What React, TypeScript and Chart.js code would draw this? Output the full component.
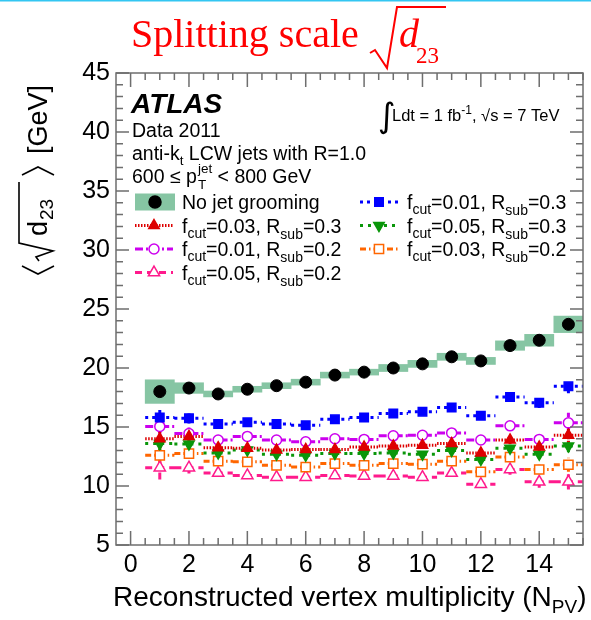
import React, { useEffect, useRef } from "react";
import { Chart, registerables } from "chart.js";
Chart.register(...registerables);

const SANS = '"Liberation Sans", Arial, sans-serif';
const SERIF = '"Liberation Serif", "Times New Roman", serif';

// ---- data ----
const npv = [1, 2, 3, 4, 5, 6, 7, 8, 9, 10, 11, 12, 13, 14, 15];
const xTickValues = [0, 2, 4, 6, 8, 10, 12, 14];
const yTickValues = [5, 10, 15, 20, 25, 30, 35, 40, 45];

const noGrooming = [18.0, 18.3, 17.8, 18.2, 18.5, 18.8, 19.4, 19.65, 20.0, 20.35, 20.95, 20.6, 21.9, 22.35, 23.7];
const noGroomingErr = [1.0, 0.45, 0.25, 0.25, 0.25, 0.25, 0.25, 0.25, 0.3, 0.3, 0.3, 0.3, 0.4, 0.5, 0.7];

const fcut001Rsub03 = [15.8, 15.75, 15.25, 15.4, 15.25, 15.15, 15.65, 15.8, 16.15, 16.3, 16.65, 15.95, 17.55, 17.05, 18.45];
const fcut001Rsub03Err = [0.8, 0.45, 0.2, 0.2, 0.2, 0.2, 0.2, 0.2, 0.2, 0.2, 0.25, 0.25, 0.35, 0.45, 0.6];

const fcut003Rsub03 = [14.0, 14.2, 13.25, 13.2, 13.05, 13.1, 13.1, 13.3, 13.4, 13.45, 13.6, 12.8, 13.9, 13.3, 14.3];
const fcut003Rsub03Err = [0.8, 0.45, 0.2, 0.2, 0.2, 0.2, 0.2, 0.2, 0.2, 0.2, 0.25, 0.25, 0.35, 0.4, 0.6];

const fcut005Rsub03 = [13.6, 13.55, 12.8, 13.05, 12.7, 12.6, 12.75, 12.75, 12.8, 12.7, 13.0, 12.25, 13.2, 12.7, 13.4];
const fcut005Rsub03Err = [0.7, 0.4, 0.2, 0.2, 0.2, 0.2, 0.2, 0.2, 0.2, 0.2, 0.25, 0.25, 0.35, 0.4, 0.55];

const fcut001Rsub02 = [15.05, 14.45, 13.9, 14.2, 13.9, 13.75, 14.0, 13.95, 14.25, 14.3, 14.5, 13.9, 15.1, 13.95, 15.35];
const fcut001Rsub02Err = [0.9, 0.5, 0.2, 0.2, 0.2, 0.2, 0.2, 0.2, 0.2, 0.2, 0.25, 0.25, 0.4, 0.45, 0.85];

const fcut003Rsub02 = [12.6, 12.75, 12.1, 12.05, 11.75, 11.6, 11.9, 11.75, 11.9, 11.85, 12.1, 11.2, 12.45, 11.4, 11.8];
const fcut003Rsub02Err = [0.8, 0.45, 0.2, 0.2, 0.2, 0.2, 0.2, 0.2, 0.2, 0.2, 0.25, 0.25, 0.4, 0.4, 0.6];

const fcut005Rsub02 = [11.55, 11.55, 11.1, 10.9, 10.75, 10.75, 10.9, 10.85, 10.85, 10.75, 11.1, 10.15, 11.4, 10.35, 10.35];
const fcut005Rsub02Err = [1.0, 0.5, 0.2, 0.2, 0.2, 0.2, 0.2, 0.2, 0.2, 0.2, 0.25, 0.25, 0.45, 0.5, 0.65];

type Series = {
  fcut: string;
  rsub: string;
  values: number[];
  errs: number[];
  color: string;
  shape: "circle" | "rect" | "triangle" | "triangleDown";
  filled: boolean;
  radius: number;
  dash: number[];
  col: number;
  row: number;
};

const seriesList: Series[] = [
  { fcut: "0.01", rsub: "0.3", values: fcut001Rsub03, errs: fcut001Rsub03Err, color: "#0000ff", shape: "rect", filled: true, radius: 6, dash: [3, 4], col: 1, row: 0 },
  { fcut: "0.03", rsub: "0.3", values: fcut003Rsub03, errs: fcut003Rsub03Err, color: "#dd0000", shape: "triangle", filled: true, radius: 6, dash: [1.5, 1.5], col: 0, row: 1 },
  { fcut: "0.05", rsub: "0.3", values: fcut005Rsub03, errs: fcut005Rsub03Err, color: "#0a960a", shape: "triangleDown", filled: true, radius: 6, dash: [3, 5, 3, 5], col: 1, row: 1 },
  { fcut: "0.01", rsub: "0.2", values: fcut001Rsub02, errs: fcut001Rsub02Err, color: "#cc00ee", shape: "circle", filled: false, radius: 5, dash: [8, 3, 2, 3], col: 0, row: 2 },
  { fcut: "0.03", rsub: "0.2", values: fcut003Rsub02, errs: fcut003Rsub02Err, color: "#ff6600", shape: "rect", filled: false, radius: 6.5, dash: [6, 3, 1.5, 3], col: 1, row: 2 },
  { fcut: "0.05", rsub: "0.2", values: fcut005Rsub02, errs: fcut005Rsub02Err, color: "#ff1a8c", shape: "triangle", filled: false, radius: 6.5, dash: [7, 5], col: 0, row: 3 },
];

const GROOM_BOX = "#86c5a3";

function drawMarker(ctx: CanvasRenderingContext2D, shape: string, x: number, y: number, r: number, color: string, filled: boolean) {
  ctx.save();
  ctx.setLineDash([]);
  ctx.beginPath();
  if (shape === "circle") {
    ctx.arc(x, y, r, 0, Math.PI * 2);
  } else if (shape === "rect") {
    const s = Math.SQRT1_2 * r;
    ctx.rect(x - s, y - s, 2 * s, 2 * s);
  } else {
    let rad = shape === "triangleDown" ? Math.PI : 0;
    ctx.moveTo(x + Math.sin(rad) * r, y - Math.cos(rad) * r);
    rad += (2 * Math.PI) / 3;
    ctx.lineTo(x + Math.sin(rad) * r, y - Math.cos(rad) * r);
    rad += (2 * Math.PI) / 3;
    ctx.lineTo(x + Math.sin(rad) * r, y - Math.cos(rad) * r);
    ctx.closePath();
  }
  ctx.fillStyle = filled ? color : "#ffffff";
  ctx.fill();
  ctx.lineWidth = 1.5;
  ctx.strokeStyle = color;
  ctx.stroke();
  ctx.restore();
}

type Run = { t: string; size: number; dy?: number; style?: string; family?: string };
function drawRuns(ctx: CanvasRenderingContext2D, x: number, y: number, runs: Run[]) {
  let cx = x;
  for (const r of runs) {
    ctx.font = `${r.style ?? ""} ${r.size}px ${r.family ?? SANS}`;
    ctx.fillText(r.t, cx, y + (r.dy ?? 0));
    cx += ctx.measureText(r.t).width;
  }
  return cx;
}

const decorPlugin = {
  id: "decor",
  afterDraw(chart: any) {
    const ctx: CanvasRenderingContext2D = chart.ctx;
    const { left, right, top, bottom } = chart.chartArea;
    const xs = chart.scales.x;
    const ys = chart.scales.y;
    ctx.save();
    ctx.textAlign = "left";
    ctx.textBaseline = "alphabetic";

    // top cyan line
    ctx.fillStyle = "#33c6f2";
    ctx.fillRect(0, 0, 591, 1.5);

    // frame + ticks
    ctx.strokeStyle = "#6e6e6e";
    ctx.lineWidth = 1.5;
    ctx.setLineDash([]);
    ctx.strokeRect(left, top, right - left, bottom - top);
    ctx.beginPath();
    for (let v = 5; v <= 45; v += 1) {
      const py = ys.getPixelForValue(v);
      const len = v % 5 === 0 ? 13 : 7;
      ctx.moveTo(left, py); ctx.lineTo(left + len, py);
      ctx.moveTo(right, py); ctx.lineTo(right - len, py);
    }
    for (let v = 0; v <= 15.5; v += 0.5) {
      const px = xs.getPixelForValue(v);
      const len = v % 2 === 0 ? 14 : 7;
      ctx.moveTo(px, bottom); ctx.lineTo(px, bottom - len);
      ctx.moveTo(px, top); ctx.lineTo(px, top + len);
    }
    ctx.stroke();

    // Title
    ctx.fillStyle = "#ff0000";
    ctx.strokeStyle = "#ff0000";
    ctx.font = `40px ${SERIF}`;
    ctx.fillText("Splitting scale", 131, 47);
    ctx.lineWidth = 2;
    ctx.beginPath();
    ctx.moveTo(370, 53); ctx.lineTo(375, 50); ctx.lineTo(387, 68); ctx.lineTo(397, 7); ctx.lineTo(446, 7);
    ctx.stroke();
    ctx.font = `italic 40px ${SERIF}`;
    ctx.fillText("d", 399, 47);
    ctx.font = `23px ${SERIF}`;
    ctx.fillText("23", 416, 63);

    // Texts in plot
    ctx.fillStyle = "#000";
    ctx.font = `italic bold 28px ${SANS}`;
    ctx.fillText("ATLAS", 131, 113);
    drawRuns(ctx, 132, 137, [{ t: "Data 2011", size: 19.5 }]);
    drawRuns(ctx, 132, 160, [{ t: "anti-k", size: 19.5 }, { t: "t", size: 13.5, dy: 5 }, { t: " LCW jets with R=1.0", size: 19.5 }]);
    {
      let cx = drawRuns(ctx, 132, 183, [{ t: "600 \u2264 p", size: 19.5 }]);
      ctx.font = `13.5px ${SANS}`;
      const w1 = ctx.measureText("jet").width;
      ctx.fillText("jet", cx + 1, 173);
      const w2 = ctx.measureText("T").width;
      ctx.fillText("T", cx + 1, 189);
      cx += Math.max(w1, w2) + 1;
      drawRuns(ctx, cx, 183, [{ t: " < 800 GeV", size: 19.5 }]);
    }
    // luminosity
    ctx.font = `34px "DejaVu Sans", sans-serif`;
    ctx.fillText("\u222B", 378, 127);
    drawRuns(ctx, 392, 121, [
      { t: "Ldt = 1 fb", size: 16.5 },
      { t: "-1", size: 12, dy: -7 },
      { t: ", \u221As = 7 TeV", size: 16.5 },
    ]);

    // Legend
    const rowsY = [202, 225.5, 249, 272.5];
    ctx.fillStyle = GROOM_BOX;
    ctx.fillRect(135, rowsY[0] - 8.5, 40, 17);
    drawMarker(ctx, "circle", 155, rowsY[0], 6, "#000", true);
    ctx.fillStyle = "#000";
    drawRuns(ctx, 182, rowsY[0] + 7, [{ t: "No jet grooming", size: 19.5 }]);
    for (const s of seriesList) {
      const x0 = s.col === 0 ? 135 : 360;
      const x1 = x0 + 38;
      const cy = rowsY[s.row];
      ctx.strokeStyle = s.color;
      ctx.lineWidth = 3;
      ctx.setLineDash(s.dash);
      ctx.beginPath();
      ctx.moveTo(x0, cy); ctx.lineTo(x1, cy);
      ctx.stroke();
      ctx.setLineDash([]);
      drawMarker(ctx, s.shape, (x0 + x1) / 2, cy, s.radius, s.color, s.filled);
      ctx.fillStyle = "#000";
      drawRuns(ctx, x1 + 9, cy + 7, [
        { t: "f", size: 19.5 },
        { t: "cut", size: 14, dy: 5 },
        { t: `=${s.fcut}, R`, size: 19.5 },
        { t: "sub", size: 14, dy: 6 },
        { t: `=${s.rsub}`, size: 19.5 },
      ]);
    }

    // X axis title
    ctx.fillStyle = "#000";
    drawRuns(ctx, 113, 606, [
      { t: "Reconstructed vertex multiplicity (N", size: 28 },
      { t: "PV", size: 19, dy: 7 },
      { t: ")", size: 28 },
    ]);

    // Y axis title (rotated)
    ctx.save();
    ctx.translate(47, 276);
    ctx.rotate(-Math.PI / 2);
    ctx.strokeStyle = "#000";
    ctx.lineWidth = 1.6;
    ctx.beginPath();
    ctx.moveTo(10, -25); ctx.lineTo(2, -9); ctx.lineTo(10, 7);
    ctx.stroke();
    ctx.beginPath();
    ctx.moveTo(15, -8); ctx.lineTo(19, -11); ctx.lineTo(25, 6); ctx.lineTo(33, -28); ctx.lineTo(94, -28);
    ctx.stroke();
    drawRuns(ctx, 40, 0, [{ t: "d", size: 27 }]);
    drawRuns(ctx, 56, 6, [{ t: "23", size: 19 }]);
    ctx.beginPath();
    ctx.moveTo(101, -25); ctx.lineTo(109, -9); ctx.lineTo(101, 7);
    ctx.stroke();
    drawRuns(ctx, 122, 0, [{ t: "[GeV]", size: 27 }]);
    ctx.restore();

    ctx.restore();
  },
};

export default function App() {
  const ref = useRef<HTMLCanvasElement | null>(null);
  useEffect(() => {
    if (!ref.current) return;
    const datasets: any[] = [];
    datasets.push({
      type: "line",
      data: npv.map((n, i) => ({ x: n, y: noGrooming[i] })),
      showLine: false,
      pointStyle: "circle",
      pointRadius: 6,
      pointBackgroundColor: "#000",
      pointBorderColor: "#000",
      pointBorderWidth: 1,
      order: 0,
    });
    seriesList.forEach((s, k) => {
      datasets.push({
        type: "line",
        data: npv.map((n, i) => ({ x: n, y: s.values[i] })),
        showLine: false,
        pointStyle: s.shape === "triangleDown" ? "triangle" : s.shape,
        pointRotation: s.shape === "triangleDown" ? 180 : 0,
        pointRadius: s.radius,
        pointBackgroundColor: s.filled ? s.color : "#ffffff",
        pointBorderColor: s.color,
        pointBorderWidth: 1.5,
        order: 1 + k,
      });
    });
    seriesList.forEach((s, k) => {
      const hseg: any[] = [];
      const vseg: any[] = [];
      npv.forEach((n, i) => {
        hseg.push({ x: n - 0.5, y: s.values[i] }, { x: n + 0.5, y: s.values[i] }, { x: n + 0.5, y: null });
        vseg.push({ x: n, y: s.values[i] - s.errs[i] }, { x: n, y: s.values[i] + s.errs[i] }, { x: n, y: null });
      });
      for (const d of [hseg, vseg]) {
        datasets.push({
          type: "line",
          data: d,
          borderColor: s.color,
          borderWidth: 3,
          borderDash: s.dash,
          pointRadius: 0,
          spanGaps: false,
          tension: 0,
          order: 10 + k,
        });
      }
    });
    datasets.push({
      type: "bar",
      data: npv.map((n, i) => ({ x: n, y: [noGrooming[i] - noGroomingErr[i], noGrooming[i] + noGroomingErr[i]] })),
      backgroundColor: GROOM_BOX,
      borderWidth: 0,
      barPercentage: 1,
      categoryPercentage: 1,
      order: 50,
    });

    const chart = new Chart(ref.current, {
      type: "line",
      data: { datasets },
      options: {
        animation: false,
        responsive: false,
        events: [],
        layout: { padding: { top: 73, right: 3, left: 0, bottom: 0 } },
        plugins: { legend: { display: false }, tooltip: { enabled: false }, title: { display: false } },
        scales: {
          x: {
            type: "linear",
            min: -0.5,
            max: 15.5,
            offset: false,
            grid: { display: false, drawTicks: false },
            border: { display: false },
            ticks: { color: "#000", font: { family: SANS, size: 25 }, padding: 5, maxRotation: 0, autoSkip: false },
            afterBuildTicks: (s: any) => { s.ticks = xTickValues.map((v) => ({ value: v })); },
            afterFit: (s: any) => { s.height = 75; },
          },
          y: {
            type: "linear",
            min: 5,
            max: 45,
            grid: { display: false, drawTicks: false },
            border: { display: false },
            ticks: { color: "#000", font: { family: SANS, size: 25 }, padding: 6 },
            afterBuildTicks: (s: any) => { s.ticks = yTickValues.map((v) => ({ value: v })); },
            afterFit: (s: any) => { s.width = 116; },
          },
        },
      } as any,
      plugins: [decorPlugin],
    });
    return () => chart.destroy();
  }, []);
  return (
    <div style={{ position: "absolute", left: 0, top: 0, width: 591, height: 620, background: "#fff" }}>
      <canvas ref={ref} width={591} height={620} style={{ display: "block" }} />
    </div>
  );
}
